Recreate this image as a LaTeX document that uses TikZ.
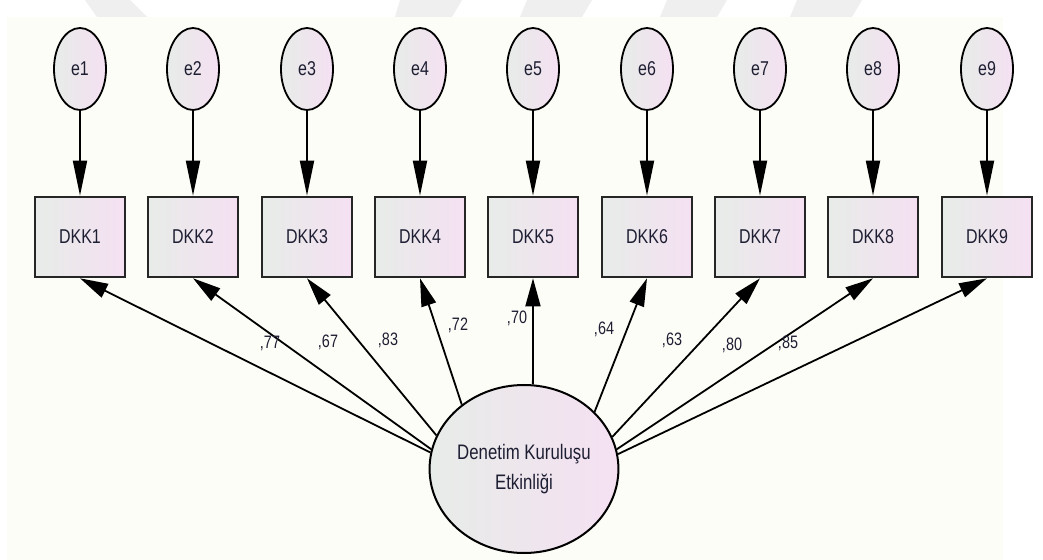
\documentclass[tikz,border=0pt]{standalone}
\usepackage{fontspec}
\setmainfont{Liberation Sans}[FakeStretch=0.8]
\usetikzlibrary{shapes.geometric,arrows.meta}
\definecolor{bgcream}{HTML}{FDFDF7}
\definecolor{fillL}{HTML}{E7ECE8}
\definecolor{fillR}{HTML}{F5E0F2}
\definecolor{txt}{HTML}{1E1E33}
\definecolor{wm}{HTML}{EFEFEF}
\tikzset{
  errnode/.style={ellipse,draw=black,line width=1.8bp,minimum width=52bp,minimum height=82bp,inner sep=0pt,
    left color=fillL,right color=fillR,text=txt,font=\fontsize{20bp}{24bp}\selectfont},
  obsnode/.style={rectangle,draw=black!85,line width=2.6bp,minimum width=90bp,minimum height=80bp,inner sep=0pt,
    left color=fillL,right color=fillR,text=txt,font=\fontsize{20bp}{24bp}\selectfont},
  latnode/.style={ellipse,draw=black,line width=2bp,minimum width=182bp,minimum height=168bp,inner sep=0pt,
    left color=fillL,right color=fillR,text=txt,align=center,font=\fontsize{21bp}{30bp}\selectfont},
  toparrow/.style={line width=1.8bp,-{Triangle[length=35bp,width=14bp]}},
  loadarrow/.style={line width=1.8bp,-{Triangle[length=28bp,width=15bp]}},
  wlabel/.style={text=txt,font=\fontsize{18bp}{20bp}\selectfont,inner sep=0pt}
}
\begin{document}
\begin{tikzpicture}[x=1bp,y=-1bp]
\useasboundingbox (0,0) rectangle (1043,560);
\fill[white] (0,0) rectangle (1043,560);
% faint watermark shapes at the top
\fill[wm] (85,0) -- (130,0) -- (147,17) -- (97,17) -- cycle;
\fill[wm] (400,0) -- (462,0) -- (452,17) -- (395,17) -- cycle;
\fill[wm] (527,0) -- (592,0) -- (582,17) -- (520,17) -- cycle;
\fill[wm] (667,0) -- (727,0) -- (717,17) -- (660,17) -- cycle;
\fill[wm] (797,0) -- (862,0) -- (852,17) -- (790,17) -- cycle;
\fill[bgcream] (7,17) rectangle (1003,560);
% nodes
\foreach \i/\x in {1/80,2/193,3/307,4/420,5/533,6/647,7/760,8/873,9/987}{
  \node[errnode] (e\i) at (\x,69) {e\i};
  \node[obsnode] (d\i) at (\x,237) {DKK\i};
  \draw[toparrow] (e\i.south) -- (d\i.north);
}
\node[latnode] (lat) at (524,469) {Denetim Kuruluşu\\Etkinliği};
\foreach \i/\a in {1/170,2/168,3/159,4/134,5/84.6,6/39.6,7/20,8/12,9/9}{
  \draw[loadarrow] (lat.\a) -- (d\i.south);
}
% loading labels
\node[wlabel] (l1) at (270,343) {,77};
\node[wlabel] (l2) at (328,342) {,67};
\node[wlabel] (l3) at (388,340) {,83};
\node[wlabel] (l4) at (458,325) {,72};
\node[wlabel] (l5) at (517,318) {,70};
\node[wlabel] (l6) at (604,329) {,64};
\node[wlabel] (l7) at (672,340) {,63};
\node[wlabel] (l8) at (732,345) {,80};
\node[wlabel] (l9) at (788,343) {,85};
\end{tikzpicture}
\end{document}
